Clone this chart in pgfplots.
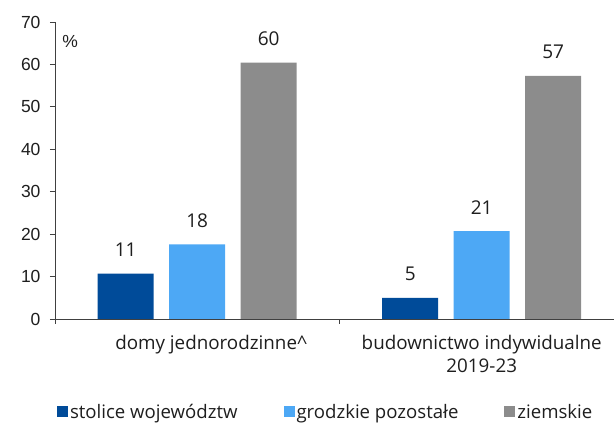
\documentclass[border=0pt]{standalone}
\usepackage{pgfplots}
\pgfplotsset{compat=1.18}
\usepackage{fontspec}
\setmainfont{Liberation Sans}
\newfontfamily\labfont{Open Sans}

\definecolor{cDark}{RGB}{0,75,153}
\definecolor{cLight}{RGB}{77,168,245}
\definecolor{cGray}{RGB}{140,140,140}
\definecolor{cAxis}{RGB}{64,64,64}
\definecolor{cText}{RGB}{30,30,30}

\begin{document}
\begin{tikzpicture}[x=1pt,y=1pt]
\begin{axis}[
    at={(55pt,104pt)}, anchor=south west,
    scale only axis,
    width=559pt, height=297pt,
    xmin=-0.5, xmax=1.465,
    ymin=0, ymax=70,
    ytick={0,10,...,70},
    xtick={-0.5,0.5,1.5},
    xticklabels={},
    extra x ticks={0,1},
    extra x tick labels={\hspace*{28pt}domy jednorodzinne\textasciicircum,{budownictwo indywidualne\\2019-23}},
    extra x tick style={major tick length=0pt,
        tick label style={font=\labfont\fontsize{18.8}{23}\selectfont, text=cText, align=center, yshift=-13pt}},
    axis x line*=bottom, axis y line*=left,
    axis line style={cAxis, line width=0.9pt},
    tick style={cAxis, line width=0.9pt},
    tick align=outside,
    major tick length=5pt,
    yticklabel style={font=\fontsize{17.5}{20}\selectfont, text=cText, xshift=-6pt},
    /pgf/number format/assume math mode=true,
    ybar=15.5pt,
    bar width=56pt,
    nodes near coords={\pgfmathprintnumber[precision=0]{\pgfplotspointmeta}},
    every node near coord/.append style={font=\labfont\fontsize{19}{22}\selectfont, text=cText, yshift=13.5pt},
    legend style={at={(axis description cs:0.0036,-0.3131)}, anchor=west,
        draw=none, fill=none, inner sep=0pt, outer sep=0pt,
        font=\labfont\fontsize{18.6}{22}\selectfont, text=cText,
        legend cell align=left, column sep=0pt,
        /tikz/every even column/.append style={column sep=44pt}},
    legend columns=3,
    legend image code/.code={\fill[#1] (0pt,-5.5pt) rectangle (11pt,5.5pt);},
    clip=false,
]
\addplot[fill=cDark, draw=none] coordinates {(0,10.7) (1,5.0)};
\addplot[fill=cLight, draw=none] coordinates {(0,17.6) (1,20.7)};
\addplot[fill=cGray, draw=none] coordinates {(0,60.4) (1,57.3)};
\legend{stolice województw, grodzkie pozostałe, ziemskie}
\node[font=\fontsize{17.5}{20}\selectfont, text=cText] at (axis description cs:0.027,0.933) {\%};
\end{axis}
\pgfresetboundingbox
\useasboundingbox (0pt,0pt) rectangle (614pt,423pt);
\end{tikzpicture}
\end{document}
